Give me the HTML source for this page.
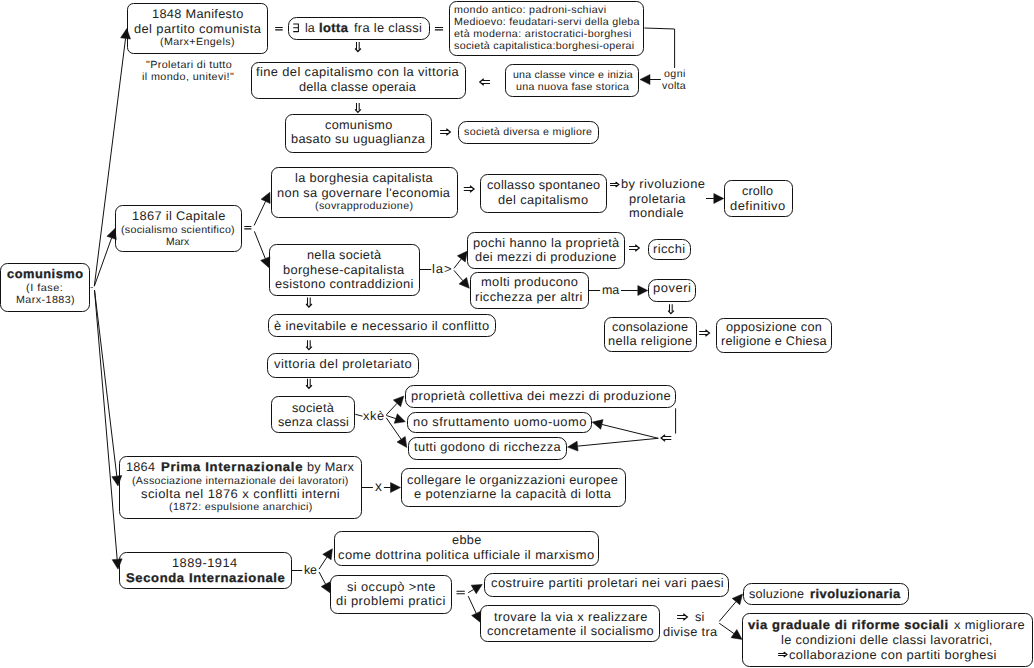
<!DOCTYPE html>
<html><head><meta charset="utf-8"><title>comunismo</title><style>
html,body{margin:0;padding:0;background:#fff;}
#c{position:relative;width:1034px;height:668px;overflow:hidden;background:#fff;}
svg{position:absolute;left:0;top:0;}
.t{position:absolute;white-space:nowrap;font-family:"Liberation Sans",sans-serif;color:#222;transform-origin:0 0;text-rendering:geometricPrecision;}
.m{font-size:12.5px;line-height:12.5px;}
.s{font-size:10.4px;line-height:10.4px;}
b{font-weight:bold;-webkit-text-stroke:0.3px #222;}
</style></head><body><div id="c">
<svg width="1034" height="668" viewBox="0 0 1034 668">
<g fill="none" stroke="#111" stroke-width="1.0">
<rect x="127.5" y="3.5" width="140.0" height="50.0" rx="6"/>
<rect x="288.5" y="17.5" width="141.0" height="22.0" rx="8"/>
<rect x="449.5" y="1.5" width="194.0" height="54.0" rx="7"/>
<rect x="251.5" y="62.5" width="214.0" height="36.0" rx="7"/>
<rect x="505.5" y="64.5" width="133.0" height="32.0" rx="7"/>
<rect x="285.5" y="114.5" width="146.0" height="38.0" rx="7"/>
<rect x="458.5" y="121.5" width="140.0" height="22.0" rx="8"/>
<rect x="0.5" y="263.5" width="89.0" height="48.0" rx="7"/>
<rect x="115.5" y="205.5" width="126.0" height="46.0" rx="7"/>
<rect x="271.5" y="167.5" width="186.0" height="50.0" rx="7"/>
<rect x="480.5" y="174.5" width="126.0" height="38.0" rx="7"/>
<rect x="724.5" y="180.5" width="68.0" height="36.0" rx="7"/>
<rect x="269.5" y="244.5" width="150.0" height="51.0" rx="7"/>
<rect x="467.5" y="232.5" width="157.0" height="36.0" rx="7"/>
<rect x="470.5" y="272.5" width="118.0" height="36.0" rx="7"/>
<rect x="648.5" y="239.5" width="42.0" height="20.0" rx="8"/>
<rect x="648.5" y="279.5" width="47.0" height="22.0" rx="8"/>
<rect x="604.5" y="317.5" width="92.0" height="34.0" rx="7"/>
<rect x="716.5" y="318.5" width="115.0" height="34.0" rx="7"/>
<rect x="268.5" y="314.5" width="227.0" height="22.0" rx="8"/>
<rect x="267.5" y="353.5" width="151.0" height="24.0" rx="8"/>
<rect x="271.5" y="396.5" width="83.0" height="36.0" rx="7"/>
<rect x="405.5" y="385.5" width="270.0" height="22.0" rx="8"/>
<rect x="407.5" y="412.5" width="184.0" height="20.0" rx="8"/>
<rect x="408.5" y="437.5" width="158.0" height="22.0" rx="8"/>
<rect x="119.5" y="456.5" width="242.0" height="62.0" rx="7"/>
<rect x="401.5" y="468.5" width="224.0" height="38.0" rx="7"/>
<rect x="119.5" y="552.5" width="172.0" height="36.0" rx="7"/>
<rect x="334.5" y="531.5" width="264.0" height="34.0" rx="7"/>
<rect x="330.5" y="575.5" width="121.0" height="38.0" rx="7"/>
<rect x="484.5" y="573.5" width="244.0" height="23.0" rx="8"/>
<rect x="480.5" y="605.5" width="179.0" height="36.0" rx="7"/>
<rect x="743.5" y="583.5" width="165.0" height="21.0" rx="8"/>
<rect x="742.5" y="613.5" width="290.0" height="53.0" rx="7"/>
<polyline points="644.4,28 674.6,29 674.6,68"/>
<polyline points="419.6,269.5 431.3,269.5"/>
<polyline points="588.5,290.5 600.1,290.5"/>
<polyline points="355.3,414.3 362.6,416.2"/>
<polyline points="675.6,408.3 675.6,433.6"/>
<polyline points="362,487.5 372.9,487.5"/>
<polyline points="291.5,570.5 302.2,570.5"/>
<line x1="94.3" y1="286.2" x2="125.55" y2="38.42"/>
<line x1="94.3" y1="286.2" x2="111.62" y2="237.91"/>
<line x1="94.5" y1="290" x2="116.81" y2="476.07"/>
<line x1="94.5" y1="290" x2="117.16" y2="559.24"/>
<line x1="660.8" y1="79.5" x2="650.00" y2="79.50"/>
<line x1="254.1" y1="225.5" x2="265.60" y2="201.33"/>
<line x1="254.4" y1="231.4" x2="265.28" y2="258.52"/>
<line x1="706" y1="198.5" x2="713.80" y2="198.50"/>
<line x1="454" y1="268.3" x2="461.28" y2="258.91"/>
<line x1="454" y1="270.4" x2="462.80" y2="280.70"/>
<line x1="621" y1="290.5" x2="637.80" y2="290.50"/>
<line x1="386.3" y1="414.9" x2="397.01" y2="403.34"/>
<line x1="386.3" y1="415.5" x2="395.79" y2="418.60"/>
<line x1="386.3" y1="417.8" x2="401.12" y2="439.27"/>
<line x1="658.3" y1="438.3" x2="601.91" y2="424.48"/>
<line x1="658.3" y1="438.3" x2="577.55" y2="446.13"/>
<line x1="383.9" y1="487.5" x2="390.50" y2="487.50"/>
<line x1="319" y1="569.2" x2="326.93" y2="557.07"/>
<line x1="319" y1="571.9" x2="325.58" y2="584.18"/>
<line x1="468.2" y1="592.7" x2="473.68" y2="589.47"/>
<line x1="468.2" y1="596.1" x2="476.19" y2="613.33"/>
<line x1="719.2" y1="621.4" x2="736.02" y2="601.62"/>
<line x1="719.2" y1="623.2" x2="733.94" y2="633.62"/>
<path stroke="#777" d="M90.5,287.5H93"/>
</g>
<g fill="none" stroke="#111" stroke-width="1.05">
<path d="M356.50,42.10V49.60M359.20,42.10V49.60"/><path stroke-width="1.3" d="M355.10,48.50L357.90,51.50L360.90,48.50"/>
<path d="M356.50,103.00V110.50M359.20,103.00V110.50"/><path stroke-width="1.3" d="M355.10,109.40L357.90,112.40L360.90,109.40"/>
<path d="M490.00,80.50H481.40M490.00,83.50H481.40"/><path stroke-width="1.3" d="M483.80,78.80L479.80,82.00L483.80,85.20"/>
<path d="M440.10,130.50H448.70M440.10,133.50H448.70"/><path stroke-width="1.3" d="M446.30,128.80L450.30,132.00L446.30,135.20"/>
<path d="M463.80,187.50H472.40M463.80,190.50H472.40"/><path stroke-width="1.3" d="M470.00,185.80L474.00,189.00L470.00,192.20"/>
<path d="M610.00,183.50H617.60M610.00,185.50H617.60"/><path stroke-width="1.3" d="M615.60,182.00L618.80,184.50L615.60,187.00"/>
<path d="M307.50,297.60V305.10M310.20,297.60V305.10"/><path stroke-width="1.3" d="M306.10,304.00L308.90,307.00L311.90,304.00"/>
<path d="M629.00,246.50H637.60M629.00,249.50H637.60"/><path stroke-width="1.3" d="M635.20,244.80L639.20,248.00L635.20,251.20"/>
<path d="M669.50,304.20V311.70M672.20,304.20V311.70"/><path stroke-width="1.3" d="M668.10,310.60L670.90,313.60L673.90,310.60"/>
<path d="M699.20,331.50H707.80M699.20,334.50H707.80"/><path stroke-width="1.3" d="M705.40,329.80L709.40,333.00L705.40,336.20"/>
<path d="M307.50,340.20V347.70M310.20,340.20V347.70"/><path stroke-width="1.3" d="M306.10,346.60L308.90,349.60L311.90,346.60"/>
<path d="M307.50,378.80V386.30M310.20,378.80V386.30"/><path stroke-width="1.3" d="M306.10,385.20L308.90,388.20L311.90,385.20"/>
<path d="M671.30,436.50H662.70M671.30,439.50H662.70"/><path stroke-width="1.3" d="M665.10,434.80L661.10,438.00L665.10,441.20"/>
<path d="M677.10,615.50H685.70M677.10,618.50H685.70"/><path stroke-width="1.3" d="M683.30,613.80L687.30,617.00L683.30,620.20"/>
<path d="M778.10,653.50H785.70M778.10,655.50H785.70"/><path stroke-width="1.3" d="M783.70,652.00L786.90,654.50L783.70,657.00"/>
<path d="M275.2,27.45H282.7M275.2,29.85H282.7"/>
<path d="M434.9,27.45H443.1M434.9,29.85H443.1"/>
<path d="M244.3,226.45H251.4M244.3,228.85H251.4"/>
<path d="M456.5,591.30H464.8M456.5,593.70H464.8"/>
<path d="M293.2,23.9H298.4M293.2,27.75H298.4M293.2,31.6H298.4M298.4,23.4V32.1"/>
</g>
<path fill="#111" stroke="#111" stroke-width="0.5" stroke-linejoin="miter" d="M126.80,28.50L130.51,39.05L120.59,37.80ZM115.00,228.50L116.33,239.60L106.92,236.22ZM118.00,486.00L111.85,476.67L121.77,475.48ZM118.00,569.20L112.18,559.65L122.14,558.82ZM640.00,79.50L650.00,74.50L650.00,84.50ZM269.90,192.30L270.12,203.48L261.09,199.18ZM269.00,267.80L260.64,260.38L269.92,256.66ZM723.80,198.50L713.80,203.50L713.80,193.50ZM467.40,251.00L465.23,261.97L457.32,255.84ZM469.30,288.30L459.00,283.95L466.60,277.45ZM647.80,290.50L637.80,295.50L637.80,285.50ZM403.80,396.00L400.67,406.73L393.34,399.94ZM405.30,421.70L394.24,423.35L397.34,413.84ZM406.80,447.50L397.00,442.11L405.23,436.43ZM592.20,422.10L603.10,419.62L600.72,429.34ZM567.60,447.10L577.07,441.16L578.04,451.11ZM400.50,487.50L390.50,492.50L390.50,482.50ZM332.40,548.70L331.11,559.81L322.74,554.33ZM330.30,593.00L321.17,586.55L329.99,581.82ZM482.30,584.40L476.22,593.78L471.15,585.16ZM480.40,622.40L471.66,615.43L480.73,611.22ZM742.50,594.00L739.83,604.86L732.21,598.38ZM742.10,639.40L731.05,637.71L736.82,629.54Z"/>
</svg>
<div class="t m" style="left:151.70px;top:8.30px;letter-spacing:0.305px;transform:scaleX(1.0203)">1848 Manifesto</div>
<div class="t m" style="left:133.60px;top:23.30px;letter-spacing:0.391px;transform:scaleX(1.0299)">del partito comunista</div>
<div class="t s" style="left:160.00px;top:38.40px;letter-spacing:0.375px;transform:scaleX(1.0294)">(Marx+Engels)</div>
<div class="t s" style="left:145.50px;top:60.70px;letter-spacing:0.346px;transform:scaleX(1.0361)">"Proletari di tutto</div>
<div class="t s" style="left:142.40px;top:73.10px;letter-spacing:0.380px;transform:scaleX(1.0371)">il mondo, unitevi!"</div>
<div class="t m" style="left:304.60px;top:22.20px;letter-spacing:0.016px;transform:scaleX(1.0007)">la</div>
<div class="t m" style="left:319.10px;top:22.20px;letter-spacing:0.453px;transform:scaleX(1.0292)"><b>lotta</b></div>
<div class="t m" style="left:354.30px;top:22.20px;letter-spacing:0.299px;transform:scaleX(1.0256)">fra le classi</div>
<div class="t s" style="left:453.50px;top:6.20px;letter-spacing:0.339px;transform:scaleX(1.0304)">mondo antico: padroni-schiavi</div>
<div class="t s" style="left:453.50px;top:18.15px;letter-spacing:0.298px;transform:scaleX(1.0278)">Medioevo: feudatari-servi della gleba</div>
<div class="t s" style="left:453.50px;top:30.10px;letter-spacing:0.346px;transform:scaleX(1.0326)">età moderna: aristocratici-borghesi</div>
<div class="t s" style="left:453.50px;top:42.05px;letter-spacing:0.295px;transform:scaleX(1.0285)">società capitalistica:borghesi-operai</div>
<div class="t m" style="left:256.40px;top:66.00px;letter-spacing:0.371px;transform:scaleX(1.0313)">fine del capitalismo con la vittoria</div>
<div class="t m" style="left:299.00px;top:80.85px;letter-spacing:0.234px;transform:scaleX(1.0175)">della classe operaia</div>
<div class="t s" style="left:512.50px;top:71.10px;letter-spacing:0.218px;transform:scaleX(1.0204)">una classe vince e inizia</div>
<div class="t s" style="left:515.60px;top:83.00px;letter-spacing:0.271px;transform:scaleX(1.0238)">una nuova fase storica</div>
<div class="t s" style="left:663.80px;top:69.80px;letter-spacing:0.378px;transform:scaleX(1.0258)">ogni</div>
<div class="t s" style="left:662.30px;top:81.70px;letter-spacing:0.313px;transform:scaleX(1.0248)">volta</div>
<div class="t m" style="left:324.50px;top:118.50px;letter-spacing:0.288px;transform:scaleX(1.0157)">comunismo</div>
<div class="t m" style="left:291.40px;top:132.60px;letter-spacing:0.303px;transform:scaleX(1.0212)">basato su uguaglianza</div>
<div class="t s" style="left:464.00px;top:128.20px;letter-spacing:0.295px;transform:scaleX(1.0277)">società diversa e migliore</div>
<div class="t m" style="left:6.50px;top:268.30px;letter-spacing:0.503px;transform:scaleX(1.0251)"><b>comunismo</b></div>
<div class="t s" style="left:26.40px;top:284.00px;letter-spacing:0.479px;transform:scaleX(1.0488)">(I fase:</div>
<div class="t s" style="left:15.60px;top:295.90px;letter-spacing:0.417px;transform:scaleX(1.0315)">Marx-1883)</div>
<div class="t m" style="left:131.60px;top:210.30px;letter-spacing:0.327px;transform:scaleX(1.0250)">1867 il Capitale</div>
<div class="t s" style="left:121.10px;top:226.10px;letter-spacing:0.288px;transform:scaleX(1.0282)">(socialismo scientifico)</div>
<div class="t s" style="left:166.00px;top:237.80px;letter-spacing:0.025px;transform:scaleX(1.0013)">Marx</div>
<div class="t m" style="left:295.10px;top:172.40px;letter-spacing:0.312px;transform:scaleX(1.0247)">la borghesia capitalista</div>
<div class="t m" style="left:277.40px;top:187.10px;letter-spacing:0.337px;transform:scaleX(1.0240)">non sa governare l'economia</div>
<div class="t s" style="left:315.30px;top:201.90px;letter-spacing:0.338px;transform:scaleX(1.0284)">(sovrapproduzione)</div>
<div class="t m" style="left:486.50px;top:179.00px;letter-spacing:0.248px;transform:scaleX(1.0172)">collasso spontaneo</div>
<div class="t m" style="left:497.90px;top:193.80px;letter-spacing:0.359px;transform:scaleX(1.0267)">del capitalismo</div>
<div class="t m" style="left:620.50px;top:178.30px;letter-spacing:0.388px;transform:scaleX(1.0291)">by rivoluzione</div>
<div class="t m" style="left:628.60px;top:193.20px;letter-spacing:0.329px;transform:scaleX(1.0250)">proletaria</div>
<div class="t m" style="left:629.40px;top:207.30px;letter-spacing:0.384px;transform:scaleX(1.0232)">mondiale</div>
<div class="t m" style="left:742.00px;top:184.80px;letter-spacing:0.150px;transform:scaleX(1.0108)">crollo</div>
<div class="t m" style="left:730.00px;top:200.00px;letter-spacing:0.444px;transform:scaleX(1.0359)">definitivo</div>
<div class="t m" style="left:307.20px;top:248.90px;letter-spacing:0.261px;transform:scaleX(1.0197)">nella società</div>
<div class="t m" style="left:283.40px;top:263.80px;letter-spacing:0.337px;transform:scaleX(1.0251)">borghese-capitalista</div>
<div class="t m" style="left:275.30px;top:277.60px;letter-spacing:0.345px;transform:scaleX(1.0264)">esistono contraddizioni</div>
<div class="t m" style="left:432.30px;top:263.40px;letter-spacing:0.828px;transform:scaleX(1.0443)">la&gt;</div>
<div class="t m" style="left:472.50px;top:237.30px;letter-spacing:0.359px;transform:scaleX(1.0271)">pochi hanno la proprietà</div>
<div class="t m" style="left:474.80px;top:251.20px;letter-spacing:0.315px;transform:scaleX(1.0231)">dei mezzi di produzione</div>
<div class="t m" style="left:480.50px;top:276.00px;letter-spacing:0.390px;transform:scaleX(1.0270)">molti producono</div>
<div class="t m" style="left:475.30px;top:290.70px;letter-spacing:0.356px;transform:scaleX(1.0291)">ricchezza per altri</div>
<div class="t m" style="left:602.00px;top:283.70px;letter-spacing:-0.149px;transform:scaleX(0.9963)">ma</div>
<div class="t m" style="left:653.40px;top:242.80px;letter-spacing:0.395px;transform:scaleX(1.0307)">ricchi</div>
<div class="t m" style="left:653.40px;top:281.90px;letter-spacing:0.519px;transform:scaleX(1.0346)">poveri</div>
<div class="t m" style="left:612.10px;top:320.60px;letter-spacing:0.194px;transform:scaleX(1.0127)">consolazione</div>
<div class="t m" style="left:608.10px;top:334.50px;letter-spacing:0.346px;transform:scaleX(1.0277)">nella religione</div>
<div class="t m" style="left:725.80px;top:320.60px;letter-spacing:0.270px;transform:scaleX(1.0183)">opposizione con</div>
<div class="t m" style="left:720.70px;top:335.10px;letter-spacing:0.222px;transform:scaleX(1.0165)">religione e Chiesa</div>
<div class="t m" style="left:274.30px;top:320.40px;letter-spacing:0.344px;transform:scaleX(1.0294)">è inevitabile e necessario il conflitto</div>
<div class="t m" style="left:273.90px;top:358.20px;letter-spacing:0.416px;transform:scaleX(1.0360)">vittoria del proletariato</div>
<div class="t m" style="left:291.80px;top:401.90px;letter-spacing:0.246px;transform:scaleX(1.0162)">società</div>
<div class="t m" style="left:278.00px;top:416.40px;letter-spacing:0.176px;transform:scaleX(1.0124)">senza classi</div>
<div class="t m" style="left:363.30px;top:410.30px;letter-spacing:0.547px;transform:scaleX(1.0246)">xkè</div>
<div class="t m" style="left:410.50px;top:389.50px;letter-spacing:0.370px;transform:scaleX(1.0297)">proprietà collettiva dei mezzi di produzione</div>
<div class="t m" style="left:412.60px;top:416.20px;letter-spacing:0.462px;transform:scaleX(1.0312)">no sfruttamento uomo-uomo</div>
<div class="t m" style="left:413.70px;top:440.90px;letter-spacing:0.334px;transform:scaleX(1.0261)">tutti godono di ricchezza</div>
<div class="t m" style="left:125.80px;top:461.40px;letter-spacing:0.264px;transform:scaleX(1.0123)">1864</div>
<div class="t m" style="left:160.60px;top:461.40px;letter-spacing:0.675px;transform:scaleX(1.0471)"><b>Prima Internazionale</b></div>
<div class="t m" style="left:306.80px;top:461.40px;letter-spacing:0.264px;transform:scaleX(1.0153)">by Marx</div>
<div class="t s" style="left:132.20px;top:476.80px;letter-spacing:0.289px;transform:scaleX(1.0277)">(Associazione internazionale dei lavoratori)</div>
<div class="t m" style="left:141.30px;top:488.30px;letter-spacing:0.428px;transform:scaleX(1.0379)">sciolta nel 1876 x conflitti interni</div>
<div class="t s" style="left:168.70px;top:502.90px;letter-spacing:0.337px;transform:scaleX(1.0310)">(1872: espulsione anarchici)</div>
<div class="t m" style="font-size:14px;line-height:14px;left:374.70px;top:479.10px;letter-spacing:0.000px;transform:scaleX(0.9857)">x</div>
<div class="t m" style="left:407.40px;top:474.40px;letter-spacing:0.284px;transform:scaleX(1.0215)">collegare le organizzazioni europee</div>
<div class="t m" style="left:414.30px;top:488.20px;letter-spacing:0.364px;transform:scaleX(1.0296)">e potenziarne la capacità di lotta</div>
<div class="t m" style="left:172.40px;top:557.10px;letter-spacing:0.466px;transform:scaleX(1.0274)">1889-1914</div>
<div class="t m" style="left:125.70px;top:571.60px;letter-spacing:0.616px;transform:scaleX(1.0413)"><b>Seconda Internazionale</b></div>
<div class="t m" style="left:304.00px;top:563.90px;letter-spacing:-0.176px;transform:scaleX(0.9943)">ke</div>
<div class="t m" style="left:451.80px;top:533.70px;letter-spacing:0.354px;transform:scaleX(1.0166)">ebbe</div>
<div class="t m" style="left:338.20px;top:548.60px;letter-spacing:0.404px;transform:scaleX(1.0334)">come dottrina politica ufficiale il marxismo</div>
<div class="t m" style="left:346.60px;top:581.40px;letter-spacing:0.388px;transform:scaleX(1.0274)">si occupò &gt;nte</div>
<div class="t m" style="left:336.30px;top:595.40px;letter-spacing:0.425px;transform:scaleX(1.0350)">di problemi pratici</div>
<div class="t m" style="left:490.70px;top:577.40px;letter-spacing:0.411px;transform:scaleX(1.0362)">costruire partiti proletari nei vari paesi</div>
<div class="t m" style="left:494.30px;top:611.00px;letter-spacing:0.376px;transform:scaleX(1.0311)">trovare la via x realizzare</div>
<div class="t m" style="left:486.50px;top:625.00px;letter-spacing:0.347px;transform:scaleX(1.0258)">concretamente il socialismo</div>
<div class="t m" style="left:694.60px;top:611.40px;letter-spacing:0.242px;transform:scaleX(1.0127)">si</div>
<div class="t m" style="left:662.80px;top:626.30px;letter-spacing:0.314px;transform:scaleX(1.0248)">divise tra</div>
<div class="t m" style="left:749.10px;top:588.00px;letter-spacing:0.185px;transform:scaleX(1.0121)">soluzione</div>
<div class="t m" style="left:809.90px;top:588.00px;letter-spacing:0.468px;transform:scaleX(1.0327)"><b>rivoluzionaria</b></div>
<div class="t m" style="left:748.40px;top:619.30px;letter-spacing:0.530px;transform:scaleX(1.0403)"><b>via graduale di riforme sociali</b></div>
<div class="t m" style="left:953.75px;top:619.30px;letter-spacing:0.378px;transform:scaleX(1.0283)">x migliorare</div>
<div class="t m" style="left:781.10px;top:634.10px;letter-spacing:0.315px;transform:scaleX(1.0272)">le condizioni delle classi lavoratrici,</div>
<div class="t m" style="left:789.00px;top:648.90px;letter-spacing:0.352px;transform:scaleX(1.0279)">collaborazione con partiti borghesi</div>
</div></body></html>
